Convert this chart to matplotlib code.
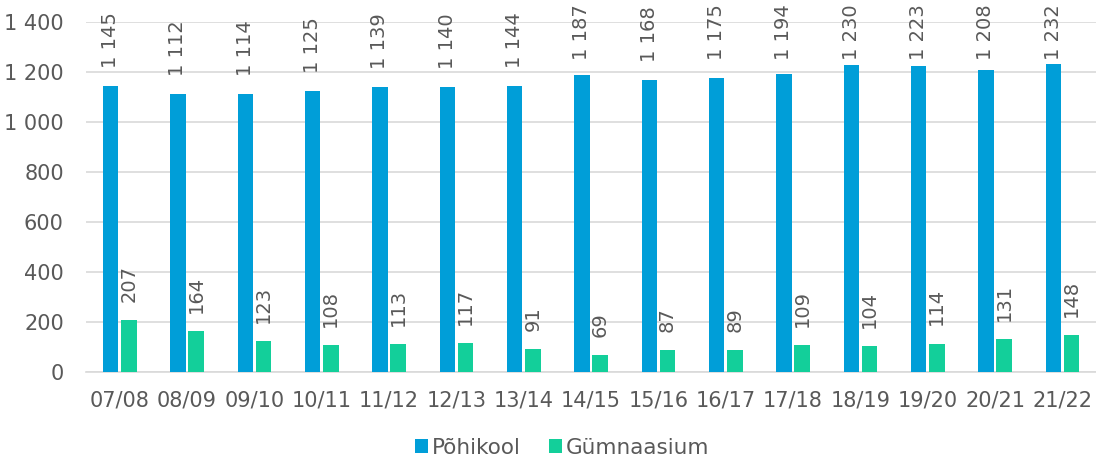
import numpy as np
import matplotlib
matplotlib.use('Agg')
import matplotlib.pyplot as plt

# school years and student counts
years = ['07/08', '08/09', '09/10', '10/11', '11/12', '12/13', '13/14', '14/15',
         '15/16', '16/17', '17/18', '18/19', '19/20', '20/21', '21/22']
pohikool = [1145, 1112, 1114, 1125, 1139, 1140, 1144, 1187, 1168, 1175, 1194, 1230, 1223, 1208, 1232]
gymnaasium = [207, 164, 123, 108, 113, 117, 91, 69, 87, 89, 109, 104, 114, 131, 148]
yticks = [0, 200, 400, 600, 800, 1000, 1200, 1400]

blue = '#009ED8'
green = '#13CF9A'
txt = '#595959'
grid = '#D9D9D9'

def fmt(v):
    return '{:,}'.format(v).replace(',', ' ')

plt.rcParams['font.family'] = ['DejaVu Sans']

fig = plt.figure(figsize=(10.96, 4.61), dpi=100)
ax = fig.add_axes([0.0785, 0.193, 0.9215, 0.759])

x = np.arange(len(years))
w = 0.23
off = 0.135
b1 = ax.bar(x - off, pohikool, w, color=blue, label='Põhikool', zorder=3)
b2 = ax.bar(x + off, gymnaasium, w, color=green, label='Gümnaasium', zorder=3)

anns = []
for bars in (b1, b2):
    for rect in bars:
        h = rect.get_height()
        a = ax.annotate(fmt(int(h)), (rect.get_x() + rect.get_width() / 2, h),
                        xytext=(0, 13), textcoords='offset points', rotation=90,
                        ha='center', va='bottom', fontsize=14, color=txt)
        anns.append(a)

ax.set_xlim(-0.5, len(years) - 0.5)
ax.set_ylim(0, 1400)
ax.set_yticks(yticks)
ax.set_yticklabels([fmt(v) for v in yticks])
ax.set_xticks(x)
ax.set_xticklabels(years)
ax.tick_params(axis='both', length=0, labelsize=15, colors=txt)
ax.tick_params(axis='y', pad=16)
ax.tick_params(axis='x', pad=13)
ax.yaxis.grid(True, color=grid, linewidth=1.2, zorder=0)
for s in ['top', 'right', 'left']:
    ax.spines[s].set_visible(False)
ax.spines['bottom'].set_color(grid)
ax.spines['bottom'].set_linewidth(1.2)

leg = fig.legend(handles=[b1, b2], loc='lower center', bbox_to_anchor=(0.513, -0.035), ncol=2,
                 frameon=False, fontsize=15.5, handlelength=0.6, handleheight=0.6,
                 handletextpad=0.2, columnspacing=1.3)
for t in leg.get_texts():
    t.set_color(txt)

# keep labels inside the figure, like Excel pushes them down
fig.canvas.draw()
H = fig.bbox.height
for a in anns:
    bb = a.get_window_extent()
    over = bb.y1 - (H - 4)
    if over > 0:
        a.xyann = (0, 13 - over * 72 / fig.dpi)

fig.savefig('out.png', dpi=100)
